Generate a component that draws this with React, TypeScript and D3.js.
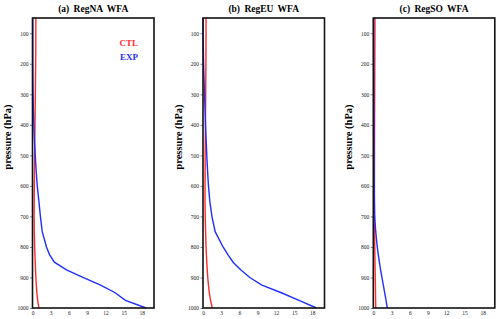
import React, { useRef, useEffect } from 'react';
import * as d3 from 'd3';

const levels = [50, 100, 150, 200, 250, 300, 350, 400, 450, 500, 550, 600, 650, 700, 750, 800, 825, 850, 875, 900, 925, 950, 975, 1000];

const naCTL = [0.55, 0.55, 0.54, 0.52, 0.5, 0.47, 0.44, 0.41, 0.38, 0.35, 0.32, 0.3, 0.28, 0.27, 0.3, 0.35, 0.4, 0.45, 0.5, 0.56, 0.63, 0.72, 0.85, 1.05];
const naEXP = [0.05, 0.05, 0.05, 0.05, 0.07, 0.1, 0.15, 0.22, 0.32, 0.45, 0.6, 0.78, 1.05, 1.3, 1.6, 2.3, 2.8, 3.6, 5.6, 8.3, 11.2, 13.6, 15.3, 18.7];
const euCTL = [0.5, 0.5, 0.49, 0.48, 0.46, 0.44, 0.42, 0.4, 0.38, 0.36, 0.35, 0.34, 0.33, 0.37, 0.43, 0.5, 0.56, 0.62, 0.7, 0.78, 0.9, 1.03, 1.25, 1.52];
const euEXP = [0, 0.02, 0.05, 0.1, 0.17, 0.25, 0.33, 0.42, 0.52, 0.62, 0.75, 0.9, 1.12, 1.47, 2.0, 3.3, 4.1, 4.95, 6.2, 7.7, 9.7, 12.9, 15.8, 18.7];
const soCTL = [0.28, 0.27, 0.26, 0.25, 0.24, 0.23, 0.22, 0.21, 0.2, 0.2, 0.19, 0.19, 0.19, 0.2, 0.22, 0.24, 0.26, 0.28, 0.3, 0.32, 0.34, 0.36, 0.38, 0.4];
const soEXP = [0.05, 0.05, 0.06, 0.07, 0.08, 0.09, 0.1, 0.11, 0.12, 0.13, 0.14, 0.16, 0.18, 0.22, 0.4, 0.65, 0.82, 1.0, 1.2, 1.42, 1.65, 1.87, 2.1, 2.3];

const titles = ['(a) RegNA WFA', '(b) RegEU WFA', '(c) RegSO WFA'];
const panelCTL = [naCTL, euCTL, soCTL];
const panelEXP = [naEXP, euEXP, soEXP];
const xTicks = [0, 3, 6, 9, 12, 15, 18];
const yTicks = [100, 200, 300, 400, 500, 600, 700, 800, 900, 1000];
const legendNames = ['CTL', 'EXP'];

const RED = '#ff2a2a';
const BLUE = '#1f2fff';

const App = () => {
    const svgRef = useRef(null);

    useEffect(() => {
        const svg = d3.select(svgRef.current);
        svg.selectAll('*').remove();

        const width = 500;
        const height = 319;
        const top = 18;
        const bottom = 308;
        const panelW = 121.5;
        const lefts = [32.5, 203, 373.3];
        const font = '"Liberation Serif", "DejaVu Serif", serif';

        svg.append('rect').attr('width', width).attr('height', height).attr('fill', 'white');

        const y = d3.scaleLinear().domain([50, 1000]).range([top, bottom]);

        lefts.forEach((left, i) => {
            const x = d3.scaleLinear().domain([0, 20]).range([left, left + panelW]);
            const g = svg.append('g');

            // axes
            const yAxis = g.append('g')
                .attr('transform', `translate(${left},0)`)
                .call(d3.axisLeft(y).tickValues(yTicks).tickFormat(d3.format('d')).tickSize(2.5).tickPadding(1.5));
            yAxis.select('.domain').remove();
            yAxis.selectAll('text')
                .attr('font-family', font)
                .attr('font-size', 5.5)
                .attr('fill', '#222');
            yAxis.selectAll('line').attr('stroke', '#333').attr('stroke-width', 0.6);

            const xAxis = g.append('g')
                .attr('transform', `translate(0,${bottom})`)
                .call(d3.axisBottom(x).tickValues(xTicks).tickSize(0).tickPadding(3));
            xAxis.select('.domain').remove();
            xAxis.selectAll('text')
                .attr('font-family', font)
                .attr('font-size', 5.5)
                .attr('fill', '#222');

            const line = d3.line<number>()
                .x(d => x(d))
                .y((d, j) => y(levels[j]));

            g.append('path')
                .datum(panelCTL[i])
                .attr('fill', 'none')
                .attr('stroke', RED)
                .attr('stroke-width', 1.4)
                .attr('d', line);

            g.append('path')
                .datum(panelEXP[i])
                .attr('fill', 'none')
                .attr('stroke', BLUE)
                .attr('stroke-width', 1.4)
                .attr('d', line);

            // frame
            g.append('rect')
                .attr('x', left)
                .attr('y', top)
                .attr('width', panelW)
                .attr('height', bottom - top)
                .attr('fill', 'none')
                .attr('stroke', '#111')
                .attr('stroke-width', 1.6);

            g.append('text')
                .attr('x', left + panelW / 2)
                .attr('y', 12)
                .attr('text-anchor', 'middle')
                .attr('font-family', font)
                .attr('font-weight', 'bold')
                .attr('font-size', 9.5)
                .attr('word-spacing', 2)
                .text(titles[i]);

            g.append('text')
                .attr('transform', `translate(${left - 21.5},137) rotate(-90)`)
                .attr('text-anchor', 'middle')
                .attr('font-family', font)
                .attr('font-weight', 'bold')
                .attr('font-size', 10.5)
                .text('pressure (hPa)');
        });

        // legend in first panel
        const legend = svg.append('g');
        [RED, BLUE].forEach((c, k) => {
            legend.append('text')
                .attr('x', 138)
                .attr('y', 46 + k * 14)
                .attr('text-anchor', 'end')
                .attr('font-family', font)
                .attr('font-weight', 'bold')
                .attr('font-size', 9)
                .attr('fill', c)
                .text(legendNames[k]);
        });
    }, []);

    return (
        <svg ref={svgRef} width={500} height={319}
            style={{ position: 'absolute', left: 0, top: 0, display: 'block' }}></svg>
    );
};

export default App;
